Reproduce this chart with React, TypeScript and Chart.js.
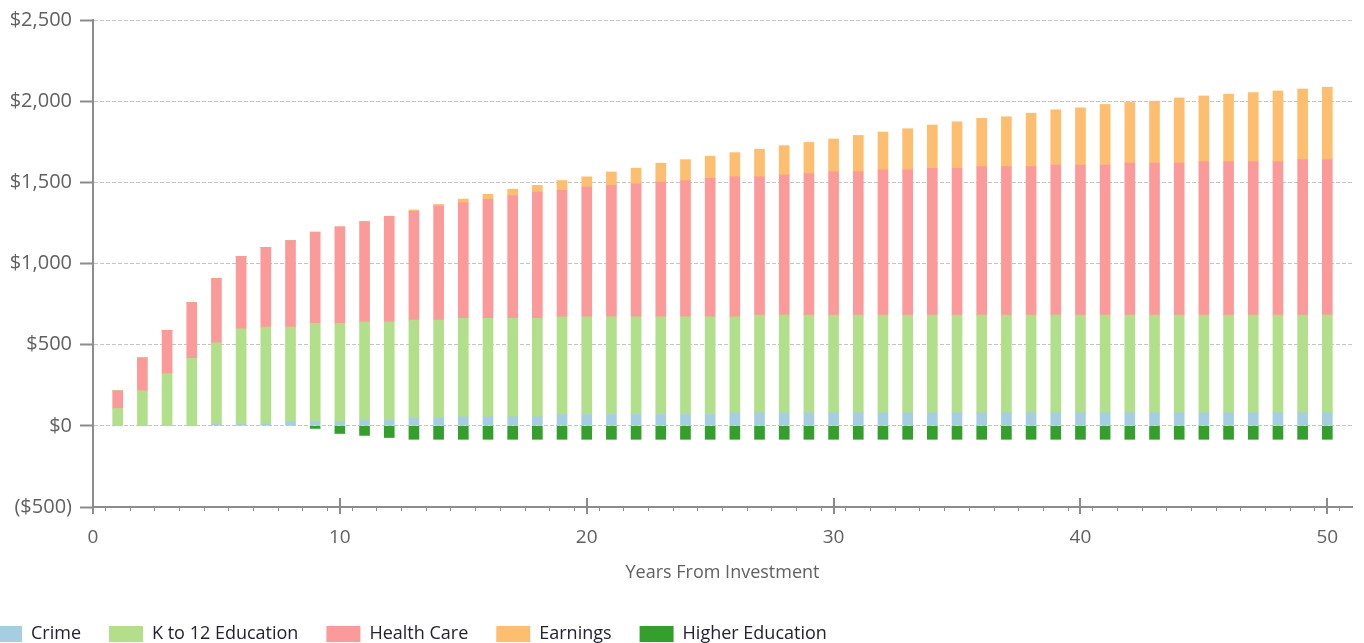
import React, { useEffect, useRef } from 'react';
import { Chart, registerables } from 'chart.js';

Chart.register(...registerables);

const years = [
  1, 2, 3, 4, 5, 6, 7, 8, 9, 10,
  11, 12, 13, 14, 15, 16, 17, 18, 19, 20,
  21, 22, 23, 24, 25, 26, 27, 28, 29, 30,
  31, 32, 33, 34, 35, 36, 37, 38, 39, 40,
  41, 42, 43, 44, 45, 46, 47, 48, 49, 50,
];

const crime = [
  0, 3, 3, 3, 10, 10, 10, 25, 25, 25,
  36, 36, 46, 46, 56, 56, 56, 56, 70, 70,
  70, 70, 70, 70, 70, 80, 80, 80, 80, 80,
  80, 80, 80, 80, 80, 80, 80, 80, 80, 80,
  80, 80, 80, 80, 80, 80, 80, 80, 80, 80,
];

const k12Education = [
  107, 213, 319, 413, 502, 588, 598, 583, 606, 606,
  605, 605, 605, 605, 606, 606, 606, 606, 602, 602,
  602, 602, 602, 602, 602, 592, 602, 602, 602, 602,
  602, 602, 602, 602, 602, 602, 602, 602, 602, 602,
  602, 602, 602, 602, 602, 602, 602, 602, 602, 602,
];

const healthCare = [
  108, 202, 266, 342, 395, 446, 491, 532, 562, 595,
  618, 650, 670, 703, 714, 733, 757, 778, 778, 798,
  809, 819, 829, 839, 852, 862, 852, 862, 872, 882,
  882, 895, 895, 905, 905, 915, 915, 915, 925, 925,
  925, 936, 936, 936, 946, 946, 946, 946, 958, 958,
];

const earnings = [
  0, 0, 0, 0, 0, 0, 0, 0, 0, 0,
  0, 0, 9, 10, 21, 32, 39, 41, 61, 64,
  83, 96, 117, 129, 137, 149, 170, 182, 192, 203,
  225, 233, 253, 266, 286, 297, 307, 329, 340, 352,
  373, 374, 382, 402, 404, 415, 425, 435, 435, 446,
];

const higherEducation = [
  0, 0, 0, 0, 0, 0, 0, 0, -16, -47,
  -59, -72, -83, -83, -83, -83, -83, -83, -83, -83,
  -83, -83, -83, -83, -83, -83, -83, -83, -83, -83,
  -83, -83, -83, -83, -83, -83, -83, -83, -83, -83,
  -83, -83, -83, -83, -83, -83, -83, -83, -83, -83,
];

const seriesNames = ['Crime', 'K to 12 Education', 'Health Care', 'Earnings', 'Higher Education'];
const seriesColors = ['#a6cee3', '#b2df8a', '#fb9a99', '#fdbf6f', '#33a02c'];

const yTicks = [-500, 0, 500, 1000, 1500, 2000, 2500];

const AXIS = '#8c8c8c';
const LABEL = '#616161';
const W = 1407;
const H = 653;
const LEFT = -40;

function fmtMoney(v: number): string {
  const s = '$' + Math.abs(v).toLocaleString('en-US');
  return v < 0 ? '(' + s + ')' : s;
}

function pickLegendFont() {
  const c = document.createElement('canvas').getContext('2d');
  if (!c) return { family: '"Open Sans", sans-serif', size: 18 };
  const txt = 'K to 12 Education';
  c.font = '22px "Liberation Sans Narrow", monospace';
  const a = c.measureText(txt).width;
  c.font = '22px monospace';
  const b = c.measureText(txt).width;
  if (Math.abs(a - b) > 1) return { family: '"Liberation Sans Narrow"', size: 22 };
  return { family: '"Open Sans", sans-serif', size: 18 };
}

export default function App() {
  const ref = useRef<HTMLCanvasElement>(null);

  useEffect(() => {
    if (!ref.current) return;
    Chart.defaults.font.family = '"Open Sans", sans-serif';
    const legendFont = pickLegendFont();
    const legendH = legendFont.size + 28 + 10;
    const xScaleH = H - legendH - 507;
    const all = [crime, k12Education, healthCare, earnings, higherEducation];
    const datasets = all.map((arr, i) => ({
      label: seriesNames[i],
      data: arr.map((v, j) => ({ x: years[j], y: v })),
      backgroundColor: seriesColors[i],
      borderWidth: 0,
      barThickness: 10,
    }));

    const majorTicks = {
      id: 'majorTicks',
      afterDraw(chart: any) {
        const xs = chart.scales.x;
        const ctx = chart.ctx;
        ctx.save();
        ctx.strokeStyle = AXIS;
        ctx.lineWidth = 2;
        for (const t of xs.ticks) {
          if (t.value % 10 === 0) {
            const px = Math.round(xs.getPixelForValue(t.value));
            ctx.beginPath();
            ctx.moveTo(px, xs.top - 9);
            ctx.lineTo(px, xs.top + 7);
            ctx.stroke();
          }
        }
        ctx.restore();
      },
    };

    const chart = new Chart(ref.current, {
      type: 'bar',
      data: { datasets },
      options: {
        responsive: false,
        animation: false,
        layout: { padding: { top: 20, right: 12, left: 0, bottom: 0 } },
        plugins: {
          legend: {
            position: 'bottom',
            align: 'start',
            labels: {
              boxWidth: 34,
              boxHeight: 16,
              padding: 28,
              color: '#222233',
              font: legendFont,
            },
          },
          tooltip: { enabled: false },
        },
        scales: {
          x: {
            type: 'linear',
            stacked: true,
            min: 0,
            max: 51,
            offset: false,
            ticks: {
              stepSize: 1,
              autoSkip: false,
              maxRotation: 0,
              padding: 15,
              color: LABEL,
              font: { size: 19 },
              callback: (v: any) => (Number(v) % 10 === 0 ? String(v) : ''),
            },
            grid: { drawOnChartArea: false, drawTicks: true, tickLength: 4, color: AXIS, lineWidth: 1 },
            border: { display: true, color: AXIS, width: 2 },
            title: {
              display: true,
              text: 'Years From Investment',
              color: LABEL,
              font: { size: 18 },
              padding: { top: 0, bottom: 13 },
            },
            afterFit: (s: any) => { s.height = xScaleH; },
          },
          y: {
            stacked: true,
            min: yTicks[0],
            max: yTicks[yTicks.length - 1],
            afterBuildTicks: (s: any) => { s.ticks = yTicks.map((v) => ({ value: v })); },
            ticks: {
              padding: 8,
              color: LABEL,
              font: { size: 20 },
              callback: (v: any) => fmtMoney(Number(v)),
            },
            grid: { color: '#c4c4c4', lineWidth: 1, tickLength: 13, tickColor: AXIS, tickWidth: 2 },
            border: { display: true, color: AXIS, width: 2, dash: [4, 2] },
            afterFit: (s: any) => { s.width = 133; },
          },
        },
      } as any,
      plugins: [majorTicks],
    });
    return () => chart.destroy();
  }, []);

  return (
    <div style={{ position: 'fixed', left: 0, top: 0, width: '100vw', height: '100vh', overflow: 'hidden', background: '#fff' }}>
      <canvas
        ref={ref}
        width={W}
        height={H}
        style={{ position: 'absolute', left: LEFT, top: 0, width: W, height: H }}
      />
    </div>
  );
}
